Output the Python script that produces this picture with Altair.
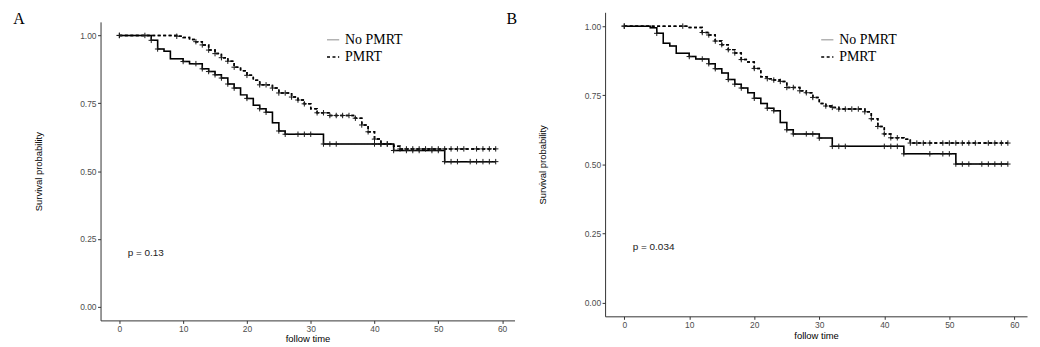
import altair as alt
import numpy as np
import pandas as pd

groups = ["No PMRT", "PMRT"]
panel_labels = ["A", "B"]
p_texts = ["p = 0.13", "p = 0.034"]
x_ticks = [0, 10, 20, 30, 40, 50, 60]
y_ticks = [0.0, 0.25, 0.5, 0.75, 1.0]

# ---- Panel A ----
a_no_time = [0, 5, 6, 7, 8, 10, 11, 13, 14, 15, 16, 17, 18, 19, 20, 21, 22, 23, 24, 25, 26, 32, 43, 51, 59]
a_no_surv = [1.0, 0.982, 0.95, 0.942, 0.914, 0.904, 0.896, 0.877, 0.867, 0.855, 0.843, 0.821, 0.806,
             0.781, 0.768, 0.743, 0.73, 0.717, 0.678, 0.648, 0.636, 0.60, 0.576, 0.535, 0.535]
a_no_cens = [0, 4, 5, 6, 10, 12, 13, 14, 15, 16, 17, 18, 20, 22, 23, 25, 26, 28, 29, 30, 32, 33, 34,
             40, 41, 42, 43, 45, 46, 47, 49, 50, 51, 52, 53, 55, 56, 57, 58, 59]
a_pm_time = [0, 9, 10, 11, 12, 13, 14, 15, 16, 17, 18, 19, 20, 21, 22, 24, 25, 27, 28, 29, 30, 31, 33,
             37, 38, 39, 40, 41, 43, 44, 59]
a_pm_surv = [1.0, 0.997, 0.992, 0.985, 0.977, 0.965, 0.946, 0.933, 0.918, 0.905, 0.883, 0.87, 0.853,
             0.835, 0.818, 0.806, 0.788, 0.773, 0.762, 0.748, 0.73, 0.715, 0.705, 0.695, 0.67, 0.645,
             0.618, 0.60, 0.592, 0.582, 0.582]
a_pm_cens = [0, 9, 12, 13, 14, 15, 16, 17, 18, 20, 22, 23, 24, 25, 26, 27, 28, 29, 31, 32, 33, 34, 35,
             36, 37, 38, 39, 40, 41, 42, 44, 45, 46, 47, 48, 49, 50, 51, 52, 53, 54, 56, 57, 58, 59]

# ---- Panel B ----
b_no_time = [0, 4, 5, 6, 7, 8, 10, 11, 13, 14, 15, 16, 17, 18, 19, 20, 21, 22, 23, 24, 25, 26, 30, 32,
             43, 51, 59]
b_no_surv = [1.0, 0.994, 0.974, 0.938, 0.928, 0.902, 0.89, 0.881, 0.864, 0.846, 0.83, 0.807, 0.79,
             0.776, 0.759, 0.739, 0.72, 0.703, 0.694, 0.651, 0.625, 0.61, 0.595, 0.565, 0.538, 0.501, 0.501]
b_no_cens = [0, 5, 10, 12, 13, 14, 16, 17, 18, 20, 22, 23, 25, 26, 28, 29, 30, 32, 33, 34, 40, 41, 42,
             43, 47, 49, 50, 51, 52, 53, 55, 56, 57, 58, 59]
b_pm_time = [0, 10, 12, 13, 14, 15, 16, 17, 18, 19, 20, 21, 22, 23, 24, 25, 27, 28, 29, 30, 31, 32, 33,
             37, 38, 39, 40, 41, 43, 44, 59]
b_pm_surv = [1.0, 0.995, 0.977, 0.968, 0.946, 0.933, 0.915, 0.903, 0.879, 0.87, 0.847, 0.817, 0.81,
             0.805, 0.80, 0.778, 0.766, 0.759, 0.742, 0.72, 0.711, 0.706, 0.70, 0.69, 0.665, 0.637,
             0.61, 0.596, 0.591, 0.577, 0.577]
b_pm_cens = [0, 9, 12, 13, 14, 15, 16, 17, 18, 20, 22, 23, 24, 25, 26, 27, 28, 29, 31, 32, 33, 34, 35,
             36, 37, 38, 39, 40, 41, 42, 44, 45, 46, 47, 49, 50, 51, 52, 53, 54, 56, 57, 58, 59]

SANS = "Liberation Sans"
SERIF = "Liberation Serif"
CROSS = "M-1,0L1,0M0,-1L0,1"


def step_lookup(times, survs, pts):
    t = np.asarray(times, dtype=float)
    s = np.asarray(survs, dtype=float)
    idx = np.searchsorted(t, np.asarray(pts, dtype=float), side="right") - 1
    return s[idx]


def panel(no_t, no_s, no_c, pm_t, pm_s, pm_c, ptext, w, h, top, ytx, xty, legx, legy, extra_labels):
    curves = pd.DataFrame({
        "time": no_t + pm_t,
        "surv": no_s + pm_s,
        "group": [groups[0]] * len(no_t) + [groups[1]] * len(pm_t),
    })
    cens = pd.DataFrame({
        "time": no_c + pm_c,
        "surv": list(step_lookup(no_t, no_s, no_c)) + list(step_lookup(pm_t, pm_s, pm_c)),
        "group": [groups[0]] * len(no_c) + [groups[1]] * len(pm_c),
    })
    total_h = h + top
    x = alt.X("time:Q", scale=alt.Scale(domain=[-2.95, 61.95], nice=False, zero=False),
              axis=alt.Axis(values=x_ticks, title="follow time", titleY=xty, titleBaseline="middle"))
    y = alt.Y("surv:Q", scale=alt.Scale(domain=[-0.05, 1.05], nice=False, zero=False, range=[total_h, top]),
              axis=alt.Axis(values=y_ticks, format=".2f", title="Survival probability",
                            titleX=ytx, titleY=top + h / 2, titleBaseline="middle", titleAngle=270))
    leg = alt.Legend(title=None, orient="none", legendX=legx, legendY=legy + top, symbolType="stroke",
                     symbolSize=150, symbolStrokeWidth=1.5, labelFont=SERIF, labelFontSize=14,
                     labelColor="black", labelOffset=5, rowPadding=3.4, padding=0)
    legend_layer = alt.Chart(curves).mark_line(interpolate="step-after", strokeWidth=1.5).encode(
        x=x, y=y,
        color=alt.Color("group:N", scale=alt.Scale(domain=groups, range=["#b3b3b3", "#000000"]), legend=leg),
        strokeDash=alt.StrokeDash("group:N", scale=alt.Scale(domain=groups, range=[[1, 0], [3, 2.5]]), legend=leg),
    )
    line_layer = alt.Chart(curves).mark_line(interpolate="step-after", strokeWidth=1.5, color="black").encode(
        x=x, y=y, strokeDash=alt.StrokeDash("group:N"), detail="group:N"
    )
    cens_layer = alt.Chart(cens).mark_point(shape=CROSS, size=30, strokeWidth=1, color="#1a1a1a",
                                            filled=False, opacity=1).encode(x=x, y=y)
    ptxt = alt.Chart(pd.DataFrame({"time": [1.3], "surv": [0.2], "t": [ptext]})).mark_text(
        align="left", baseline="middle", font=SANS, fontSize=10, color="#222222"
    ).encode(x=x, y=y, text="t:N")
    layers = [legend_layer, line_layer, cens_layer, ptxt]
    for lab, lx, ly in extra_labels:
        layers.append(
            alt.Chart(pd.DataFrame({"lab": [lab]})).mark_text(
                align="left", baseline="alphabetic", font=SERIF, fontSize=16, color="black"
            ).encode(x=alt.value(lx), y=alt.value(ly + top), text="lab:N")
        )
    return alt.layer(*layers).properties(width=w, height=total_h)


pa = panel(a_no_time, a_no_surv, a_no_cens, a_pm_time, a_pm_surv, a_pm_cens, p_texts[0],
           416, 300, 9.6, -62, 18.5, 226.7, 10.9,
           [(panel_labels[0], -87.7, 1.9), (panel_labels[1], 408, 1.9)])
pb = panel(b_no_time, b_no_surv, b_no_cens, b_pm_time, b_pm_surv, b_pm_cens, p_texts[1],
           424, 305.5, 0, -63, 19.5, 216.3, 20.5, [])

chart = alt.hconcat(pa, pb, spacing=91, bounds="flush").resolve_scale(
    color="independent", strokeDash="independent"
).configure_view(stroke=None).configure_axis(
    grid=False, labelFont=SANS, labelFontSize=8.5, labelColor="#4d4d4d", tickColor="#333333",
    tickSize=3, labelPadding=1.5, domainColor="#333333", domainWidth=1, tickWidth=1,
    titleFont=SANS, titleFontSize=9.5, titleFontWeight="normal", titleColor="black"
).properties(padding={"left": 5, "top": 1.5, "right": 5, "bottom": 5})

chart.save("out.html", embed_options={"renderer": "svg", "actions": False})
